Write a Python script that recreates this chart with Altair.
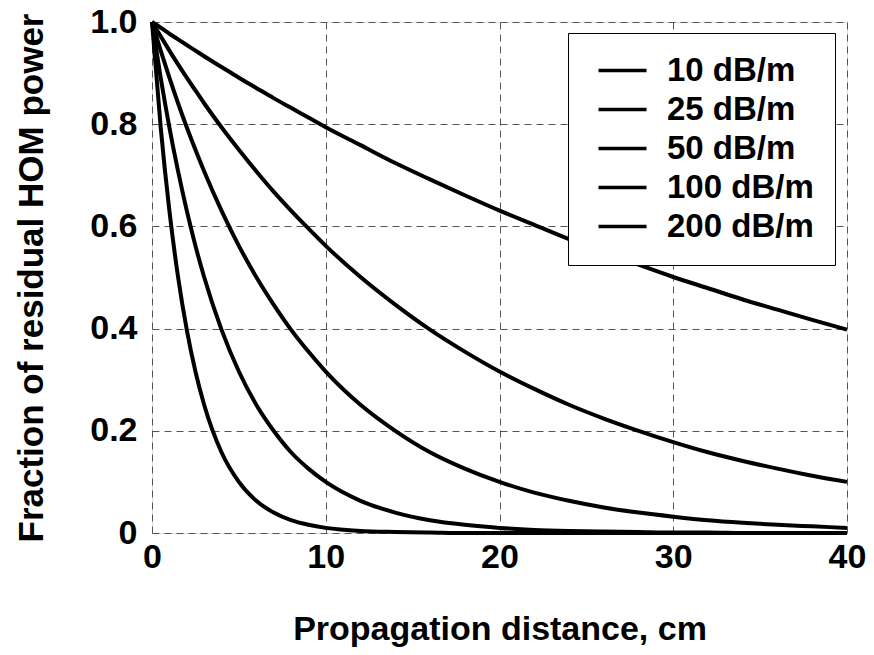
import altair as alt
import pandas as pd

# propagation distance (cm)
distance = [0, 0.5, 1, 1.5, 2, 2.5, 3, 4, 5, 6, 7, 8, 9, 10, 12, 14, 16, 18, 20,
            22, 24, 26, 28, 30, 32, 34, 36, 38, 40]

series_names = ["10 dB/m", "25 dB/m", "50 dB/m", "100 dB/m", "200 dB/m"]

p10 = [1.000, 0.989, 0.977, 0.966, 0.955, 0.944, 0.933, 0.912, 0.891, 0.871, 0.851, 0.832,
       0.813, 0.794, 0.759, 0.724, 0.692, 0.661, 0.631, 0.603, 0.575, 0.550, 0.525, 0.501,
       0.479, 0.457, 0.437, 0.417, 0.398]
p25 = [1.000, 0.972, 0.944, 0.917, 0.891, 0.866, 0.841, 0.794, 0.750, 0.708, 0.668, 0.631,
       0.596, 0.562, 0.501, 0.447, 0.398, 0.355, 0.316, 0.282, 0.251, 0.224, 0.200, 0.178,
       0.158, 0.141, 0.126, 0.112, 0.100]
p50 = [1.000, 0.944, 0.891, 0.841, 0.794, 0.750, 0.708, 0.631, 0.562, 0.501, 0.447, 0.398,
       0.355, 0.316, 0.251, 0.200, 0.158, 0.126, 0.100, 0.079, 0.063, 0.050, 0.040, 0.032,
       0.025, 0.020, 0.016, 0.013, 0.010]
p100 = [1.000, 0.891, 0.794, 0.708, 0.631, 0.562, 0.501, 0.398, 0.316, 0.251, 0.200, 0.158,
        0.126, 0.100, 0.063, 0.040, 0.025, 0.016, 0.010, 0.006, 0.004, 0.003, 0.002, 0.001,
        0.001, 0.000, 0.000, 0.000, 0.000]
p200 = [1.000, 0.794, 0.631, 0.501, 0.398, 0.316, 0.251, 0.158, 0.100, 0.063, 0.040, 0.025,
        0.016, 0.010, 0.004, 0.002, 0.001, 0.000, 0.000, 0.000, 0.000, 0.000, 0.000, 0.000,
        0.000, 0.000, 0.000, 0.000, 0.000]

x_ticks = [0, 10, 20, 30, 40]
y_ticks = [0, 0.2, 0.4, 0.6, 0.8, 1.0]

rows = []
for name, vals in zip(series_names, [p10, p25, p50, p100, p200]):
    for d, v in zip(distance, vals):
        rows.append({"distance": d, "power": v, "series": name})
df = pd.DataFrame(rows)

FONT = "Liberation Sans"

chart = (
    alt.Chart(df)
    .mark_line(strokeWidth=4, interpolate="monotone", color="black")
    .encode(
        x=alt.X(
            "distance:Q",
            scale=alt.Scale(domain=[0, 40], nice=False, zero=False),
            axis=alt.Axis(
                values=x_ticks,
                title="Propagation distance, cm",
                titleFontSize=34,
                titleFont=FONT,
                titleFontWeight="bold",
                titleColor="black",
                titleBaseline="alphabetic",
                titleY=106,
                labelFontSize=34,
                labelFont=FONT,
                labelFontWeight="bold",
                labelColor="black",
                labelPadding=7,
                tickSize=0,
                domain=False,
                grid=True,
                gridDash=[7, 5],
                gridColor="#555555",
                gridWidth=1,
                labelFlush=False,
            ),
        ),
        y=alt.Y(
            "power:Q",
            scale=alt.Scale(domain=[0, 1], nice=False),
            axis=alt.Axis(
                values=y_ticks,
                labelExpr="datum.value == 0 ? '0' : format(datum.value, '.1f')",
                title="Fraction of residual HOM power",
                titleFontSize=35,
                titleFont=FONT,
                titleFontWeight="bold",
                titleColor="black",
                titleBaseline="middle",
                titleX=-121,
                labelFontSize=34,
                labelFont=FONT,
                labelFontWeight="bold",
                labelColor="black",
                labelPadding=15,
                tickSize=0,
                domain=False,
                grid=True,
                gridDash=[7, 5],
                gridColor="#555555",
                gridWidth=1,
                labelFlush=False,
            ),
        ),
        color=alt.Color(
            "series:N",
            sort=series_names,
            scale=alt.Scale(domain=series_names, range=["black"] * 5),
            legend=alt.Legend(
                title=None,
                orient="none",
                legendX=416,
                legendY=11,
                fillColor="white",
                strokeColor="black",
                padding=21,
                labelFontSize=33,
                labelFont=FONT,
                labelFontWeight="bold",
                labelColor="black",
                symbolType="M-2,0H2",
                symbolSize=576,
                symbolStrokeWidth=3.5,
                symbolStrokeColor="black",
                symbolOffset=17,
                labelOffset=28,
                rowPadding=5,
            ),
        ),
    )
    .properties(
        width=695,
        height=511,
        autosize=alt.AutoSizeParams(type="none"),
        padding={"left": 144, "top": 14, "right": 19, "bottom": 114},
    )
    .configure_view(stroke="black", strokeWidth=2)
    .configure(background="white")
)

chart.save("out.html", embed_options={"renderer": "svg", "actions": False})
